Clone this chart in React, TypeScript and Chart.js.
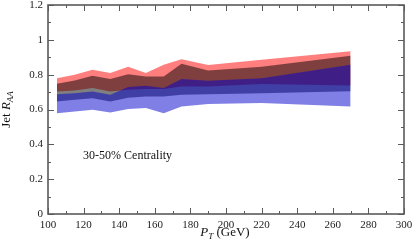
import React, { useEffect, useRef } from "react";
import { Chart, registerables } from "chart.js";

Chart.register(...registerables);

const pT = [105, 115, 125, 135, 145, 155, 165, 175, 190, 220, 270];
const redUpper = [0.78, 0.799, 0.828, 0.809, 0.846, 0.809, 0.857, 0.889, 0.855, 0.886, 0.935];
const redLower = [0.703, 0.709, 0.723, 0.703, 0.713, 0.717, 0.717, 0.732, 0.732, 0.746, 0.738];
const blackUpper = [0.748, 0.767, 0.794, 0.775, 0.802, 0.79, 0.79, 0.862, 0.824, 0.845, 0.908];
const blackLower = [0.646, 0.656, 0.665, 0.646, 0.668, 0.675, 0.675, 0.684, 0.688, 0.694, 0.705];
const blueUpper = [0.688, 0.694, 0.703, 0.684, 0.729, 0.736, 0.723, 0.775, 0.765, 0.78, 0.857];
const blueLower = [0.579, 0.588, 0.598, 0.583, 0.603, 0.608, 0.579, 0.617, 0.631, 0.637, 0.617];

const annotationText = "30-50% Centrality";
const annotationPos = { x: 119.7, y: 0.316 };

const FONT = "'Liberation Serif', 'Times New Roman', serif";
const FRAME = "#5a5a5a";

type Seg = { t: string; it?: boolean; sub?: boolean };

function drawMixed(ctx: CanvasRenderingContext2D, segs: Seg[], size: number) {
  const fontFor = (s: Seg) =>
    `${s.it ? "italic " : ""}${s.sub ? Math.round(size * 0.7) : size}px ${FONT}`;
  let total = 0;
  const widths = segs.map((s) => {
    ctx.font = fontFor(s);
    const w = ctx.measureText(s.t).width;
    total += w;
    return w;
  });
  let x = -total / 2;
  segs.forEach((s, i) => {
    ctx.font = fontFor(s);
    ctx.fillText(s.t, x, s.sub ? size * 0.25 : 0);
    x += widths[i];
  });
}

const decorPlugin = {
  id: "decor",
  afterDraw(chart: any) {
    const { ctx, chartArea: a, scales } = chart;
    const xs = scales.x;
    const ys = scales.y;
    ctx.save();
    ctx.strokeStyle = FRAME;
    ctx.lineWidth = 1;
    ctx.beginPath();
    xs.ticks.forEach((t: any) => {
      const px = Math.round(xs.getPixelForValue(t.value)) + 0.5;
      const len = Math.round(t.value) % 20 === 0 ? 6 : 3;
      ctx.moveTo(px, a.bottom);
      ctx.lineTo(px, a.bottom - len);
      ctx.moveTo(px, a.top);
      ctx.lineTo(px, a.top + len);
    });
    ys.ticks.forEach((t: any) => {
      const py = Math.round(ys.getPixelForValue(t.value)) + 0.5;
      const len = Math.round(t.value * 10) % 2 === 0 ? 6 : 3;
      ctx.moveTo(a.left, py);
      ctx.lineTo(a.left + len, py);
      ctx.moveTo(a.right, py);
      ctx.lineTo(a.right - len, py);
    });
    ctx.stroke();
    ctx.lineWidth = 1.6;
    ctx.strokeRect(a.left, a.top, a.right - a.left, a.bottom - a.top);

    ctx.fillStyle = "#111";
    ctx.textBaseline = "alphabetic";
    ctx.textAlign = "left";
    // annotation
    ctx.font = `12px ${FONT}`;
    ctx.fillText(annotationText, xs.getPixelForValue(annotationPos.x), ys.getPixelForValue(annotationPos.y));

    // x title
    ctx.save();
    ctx.translate((a.left + a.right) / 2 - 1, 236);
    drawMixed(ctx, [{ t: "P", it: true }, { t: "T", it: true, sub: true }, { t: " (GeV)" }], 13);
    ctx.restore();

    // y title
    ctx.save();
    ctx.translate(10, (a.top + a.bottom) / 2);
    ctx.rotate(-Math.PI / 2);
    drawMixed(ctx, [{ t: "Jet " }, { t: "R", it: true }, { t: "AA", it: true, sub: true }], 13);
    ctx.restore();
    ctx.restore();
  },
};

function band(upper: number[], lower: number[], color: string) {
  return [
    {
      data: pT.map((x, i) => ({ x, y: upper[i] })),
      fill: "+1",
      backgroundColor: color,
      borderWidth: 0,
      pointRadius: 0,
      tension: 0,
    },
    {
      data: pT.map((x, i) => ({ x, y: lower[i] })),
      fill: false,
      backgroundColor: color,
      borderWidth: 0,
      pointRadius: 0,
      tension: 0,
    },
  ];
}

export default function App() {
  const ref = useRef<HTMLCanvasElement>(null);
  useEffect(() => {
    document.body.style.margin = "0";
    const canvas = ref.current!;
    const chart = new Chart(canvas, {
      type: "line",
      data: {
        datasets: [
          ...band(blueUpper, blueLower, "rgba(0,0,205,0.5)"),
          ...band(blackUpper, blackLower, "rgba(0,0,0,0.5)"),
          ...band(redUpper, redLower, "rgba(255,0,0,0.5)"),
        ] as any,
      },
      options: {
        animation: false,
        responsive: false,
        devicePixelRatio: 1,
        layout: { padding: { left: 0, right: 11, top: 5, bottom: 0 } },
        plugins: { legend: { display: false }, tooltip: { enabled: false } },
        scales: {
          x: {
            type: "linear",
            min: 100,
            max: 300,
            grid: { display: false, drawTicks: false },
            border: { display: false },
            ticks: {
              stepSize: 10,
              autoSkip: false,
              maxRotation: 0,
              padding: 5,
              color: "#222",
              font: { family: FONT, size: 11 },
              callback: (v: any) => (Math.round(v) % 20 === 0 ? String(Math.round(v)) : ""),
            },
            afterFit: (s: any) => {
              s.height = 34;
              s.paddingLeft = 0;
              s.paddingRight = 0;
            },
          },
          y: {
            min: 0,
            max: 1.2,
            grid: { display: false, drawTicks: false },
            border: { display: false },
            ticks: {
              stepSize: 0.1,
              autoSkip: false,
              padding: 5,
              color: "#222",
              font: { family: FONT, size: 11 },
              callback: (v: any) => {
                const k = Math.round(v * 10);
                return k % 2 === 0 ? String(k / 10) : "";
              },
            },
            afterFit: (s: any) => {
              s.width = 48;
              s.paddingTop = 0;
              s.paddingBottom = 0;
            },
          },
        },
      },
      plugins: [decorPlugin],
    });
    return () => chart.destroy();
  }, []);
  return <canvas ref={ref} width={415} height={248} style={{ display: "block" }} />;
}
